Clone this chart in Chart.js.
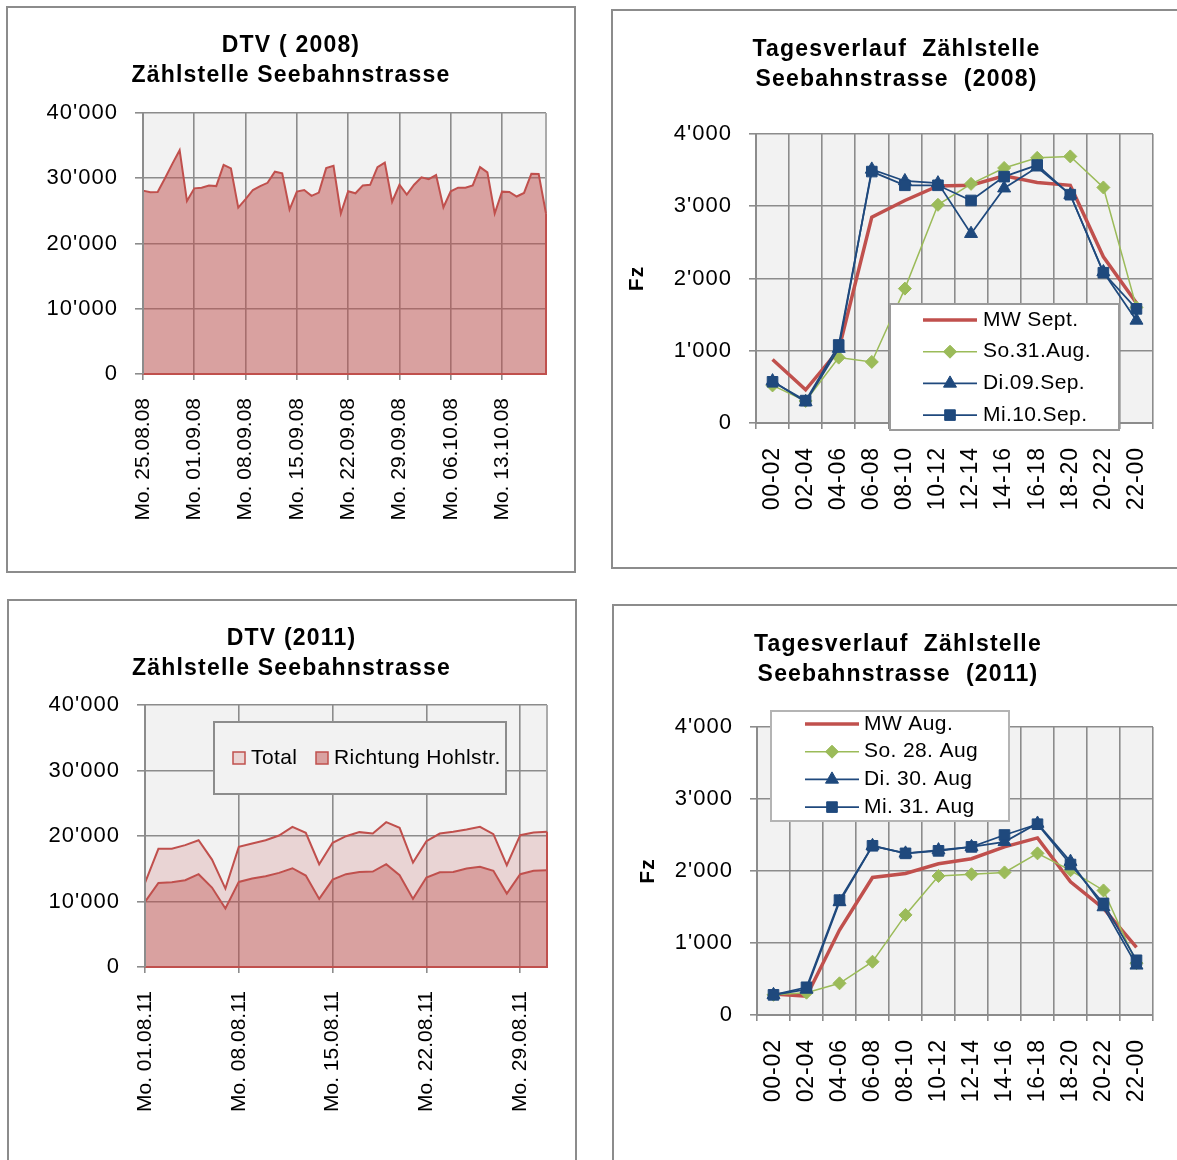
<!DOCTYPE html>
<html lang="de">
<head>
<meta charset="utf-8">
<title>Zählstelle Seebahnstrasse</title>
<script src="https://cdn.jsdelivr.net/npm/chart.js"></script>
<style>
  html, body { margin: 0; padding: 0; background: #fff; }
  body { position: relative; width: 1177px; height: 1160px; overflow: hidden; }
  canvas { position: absolute; }
  .frame { position: absolute; box-sizing: border-box; border: 2px solid #8c8c8c; pointer-events: none; }
</style>
</head>
<body>
<canvas id="dtv2008"></canvas>
<canvas id="tag2008"></canvas>
<canvas id="dtv2011"></canvas>
<canvas id="tag2011"></canvas>
<div class="frame" style="left:6px;top:6px;width:570px;height:567px"></div>
<div class="frame" style="left:611px;top:9px;width:600px;height:560px"></div>
<div class="frame" style="left:7px;top:599px;width:570px;height:600px"></div>
<div class="frame" style="left:612px;top:604px;width:600px;height:600px"></div>
<script>
// ---------- daily traffic 2008 ----------
const days2008 = [
  '25.08.08','26.08.08','27.08.08','28.08.08','29.08.08','30.08.08','31.08.08',
  '01.09.08','02.09.08','03.09.08','04.09.08','05.09.08','06.09.08','07.09.08',
  '08.09.08','09.09.08','10.09.08','11.09.08','12.09.08','13.09.08','14.09.08',
  '15.09.08','16.09.08','17.09.08','18.09.08','19.09.08','20.09.08','21.09.08',
  '22.09.08','23.09.08','24.09.08','25.09.08','26.09.08','27.09.08','28.09.08',
  '29.09.08','30.09.08','01.10.08','02.10.08','03.10.08','04.10.08','05.10.08',
  '06.10.08','07.10.08','08.10.08','09.10.08','10.10.08','11.10.08','12.10.08',
  '13.10.08','14.10.08','15.10.08','16.10.08','17.10.08','18.10.08','19.10.08'
];
const mondays2008 = ['Mo. 25.08.08','Mo. 01.09.08','Mo. 08.09.08','Mo. 15.09.08',
  'Mo. 22.09.08','Mo. 29.09.08','Mo. 06.10.08','Mo. 13.10.08'];
const dtv2008 = [
  28100, 27850, 27900, 30000, 32200, 34300, 26500,
  28450, 28550, 28900, 28800, 32050, 31500, 25500,
  26800, 28200, 28800, 29300, 31000, 30750, 25200,
  27950, 28200, 27300, 27800, 31550, 31900, 24600,
  28000, 27700, 28900, 29000, 31700, 32400, 26400,
  29000, 27500, 29000, 30150, 29850, 30500, 25550,
  28000, 28550, 28550, 28900, 31700, 30900, 24600,
  27950, 27900, 27200, 27750, 30700, 30650, 24600
];

// ---------- daily traffic 2011 ----------
const days2011 = [
  '01.08.11','02.08.11','03.08.11','04.08.11','05.08.11','06.08.11','07.08.11',
  '08.08.11','09.08.11','10.08.11','11.08.11','12.08.11','13.08.11','14.08.11',
  '15.08.11','16.08.11','17.08.11','18.08.11','19.08.11','20.08.11','21.08.11',
  '22.08.11','23.08.11','24.08.11','25.08.11','26.08.11','27.08.11','28.08.11',
  '29.08.11','30.08.11','31.08.11'
];
const mondays2011 = ['Mo. 01.08.11','Mo. 08.08.11','Mo. 15.08.11','Mo. 22.08.11','Mo. 29.08.11'];
const total2011 = [
  12840, 18040, 18040, 18600, 19360, 16400, 11970,
  18340, 18850, 19360, 20080, 21400, 20480, 15690,
  18960, 19970, 20590, 20380, 22110, 21250, 15950,
  19210, 20380, 20640, 20990, 21400, 20280, 15540,
  20130, 20540, 20640
];
const hohlstr2011 = [
  9940, 12840, 12940, 13250, 14170, 12130, 8920,
  12990, 13500, 13860, 14370, 15080, 13960, 10400,
  13350, 14170, 14520, 14570, 15690, 14010, 10400,
  13660, 14470, 14520, 15030, 15290, 14680, 11210,
  14170, 14680, 14780
];

// ---------- two-hour profiles ----------
const hours = ['00-02','02-04','04-06','06-08','08-10','10-12','12-14','14-16','16-18','18-20','20-22','22-00'];
const mwSep2008   = [880, 460, 1010, 2850, 3080, 3280, 3290, 3420, 3330, 3290, 2300, 1660];
const so31Aug2008 = [520, 305, 905, 845, 1860, 3020, 3310, 3530, 3670, 3690, 3260, 1600];
const di09Sep2008 = [580, 290, 1030, 3510, 3350, 3320, 2620, 3250, 3540, 3160, 2090, 1420];
const mi10Sep2008 = [570, 310, 1080, 3480, 3290, 3290, 3080, 3410, 3570, 3160, 2080, 1580];

const mwAug2011   = [290, 260, 1180, 1910, 1965, 2100, 2170, 2335, 2460, 1850, 1480, 940];
const so28Aug2011 = [280, 310, 440, 740, 1390, 1930, 1955, 1980, 2245, 2010, 1730, 720];
const di30Aug2011 = [280, 355, 1570, 2350, 2245, 2290, 2335, 2405, 2660, 2130, 1500, 690];
const mi31Aug2011 = [280, 385, 1595, 2350, 2245, 2280, 2335, 2500, 2650, 2090, 1550, 760];

// ---------- styling ----------
const FONT = '"Liberation Sans", Arial, Helvetica, sans-serif';
const RED = '#c0504d', GREEN = '#9bbb59', BLUE = '#1f497d';
const GRID = '#8c8c8c', AXIS = '#8c8c8c', PLOT_BG = '#f2f2f2', EDGE = '#ababab';
const TRANSPARENT = 'rgba(0,0,0,0)';

Chart.defaults.font.family = FONT;
Chart.defaults.color = '#000';

const swiss = v => String(v).replace(/\B(?=(\d{3})+(?!\d))/g, "'");

function place(id, x, y, w, h) {
  const c = document.getElementById(id);
  c.width = w; c.height = h;
  c.style.left = x + 'px'; c.style.top = y + 'px';
  c.style.width = w + 'px'; c.style.height = h + 'px';
  return c;
}

function marker(ctx, style, r, x, y, color) {
  ctx.save();
  ctx.fillStyle = color; ctx.strokeStyle = color; ctx.lineWidth = 1;
  ctx.beginPath();
  if (style === 'rectRot') {
    ctx.moveTo(x, y - r); ctx.lineTo(x + r, y); ctx.lineTo(x, y + r); ctx.lineTo(x - r, y);
  } else if (style === 'triangle') {
    for (let k = 0; k < 3; k++) {
      const a = k * 2 * Math.PI / 3;
      ctx.lineTo(x + Math.sin(a) * r, y - Math.cos(a) * r);
    }
  } else {
    const h = r * Math.SQRT1_2;
    ctx.rect(x - h, y - h, 2 * h, 2 * h);
  }
  ctx.closePath(); ctx.fill(); ctx.stroke();
  ctx.restore();
}

function drawLegend(chart, L) {
  const ctx = chart.ctx;
  ctx.save();
  ctx.fillStyle = L.fill; ctx.fillRect(L.x, L.y, L.w, L.h);
  ctx.strokeStyle = L.stroke; ctx.lineWidth = 2; ctx.strokeRect(L.x, L.y, L.w, L.h);
  ctx.font = '21px ' + FONT;
  ctx.letterSpacing = '0.4px';
  ctx.textBaseline = 'middle'; ctx.textAlign = 'left';
  chart.data.datasets.forEach((ds, i) => {
    if (L.kind === 'line') {
      const y = L.rowY + i * L.rowStep;
      ctx.strokeStyle = ds.borderColor; ctx.lineWidth = ds.borderWidth;
      ctx.beginPath(); ctx.moveTo(L.sx0, y); ctx.lineTo(L.sx1, y); ctx.stroke();
      if (ds.pointRadius) marker(ctx, ds.pointStyle, ds.pointRadius, (L.sx0 + L.sx1) / 2, y, ds.pointBackgroundColor);
      ctx.fillStyle = '#000';
      ctx.fillText(ds.label, L.tx, y);
    } else {
      const it = L.items[i];
      ctx.fillStyle = it.swatch; ctx.fillRect(it.x, L.cy - 6, 12, 12);
      ctx.strokeStyle = ds.borderColor; ctx.lineWidth = 1.5; ctx.strokeRect(it.x, L.cy - 6, 12, 12);
      ctx.fillStyle = '#000';
      ctx.fillText(ds.label, it.x + 18, L.cy);
    }
  });
  ctx.restore();
}

// plot background, area outlines, heading and legend for one panel
function panelPlugin(cfg) {
  return {
    id: 'panel',
    beforeDraw(chart) {
      const {ctx, chartArea: a} = chart;
      ctx.save();
      ctx.fillStyle = PLOT_BG;
      ctx.fillRect(a.left, a.top, a.width, a.height);
      ctx.restore();
      ctx.letterSpacing = cfg.ySpacing + 'px';
    },
    beforeDatasetsDraw(chart) {
      if (!cfg.rightEdge) return;
      const {ctx, chartArea: a} = chart;
      ctx.save();
      ctx.strokeStyle = EDGE; ctx.lineWidth = 2;
      ctx.beginPath(); ctx.moveTo(a.right, a.top); ctx.lineTo(a.right, a.bottom); ctx.stroke();
      ctx.restore();
    },
    afterDatasetsDraw(chart) {
      const ctx = chart.ctx;
      const base = chart.scales.y.getPixelForValue(0);
      chart.data.datasets.forEach((ds, i) => {
        if (!ds.fill) return;
        const pts = chart.getDatasetMeta(i).data;
        const f = pts[0], l = pts[pts.length - 1];
        ctx.save();
        ctx.strokeStyle = ds.borderColor; ctx.lineWidth = ds.borderWidth;
        ctx.beginPath();
        ctx.moveTo(f.x, f.y); ctx.lineTo(f.x, base); ctx.lineTo(l.x, base); ctx.lineTo(l.x, l.y);
        ctx.stroke();
        ctx.restore();
      });
      ctx.letterSpacing = cfg.xSpacing + 'px';
    },
    afterDraw(chart) {
      const ctx = chart.ctx;
      ctx.save();
      ctx.letterSpacing = '1.2px';
      ctx.font = 'bold 23px ' + FONT;
      ctx.fillStyle = '#000'; ctx.textAlign = 'center'; ctx.textBaseline = 'middle';
      cfg.title.forEach((line, k) => ctx.fillText(line, cfg.titleX, cfg.titleY[k]));
      ctx.restore();
      if (cfg.legend) drawLegend(chart, cfg.legend);
    }
  };
}

function valueAxis(max, step, width, tickLen, pad, fzPad) {
  return {
    min: 0, max: max,
    ticks: { stepSize: step, padding: pad, color: '#000', font: { family: FONT, size: 22 }, callback: v => swiss(v) },
    grid: { color: GRID, lineWidth: 1.6, tickLength: tickLen },
    border: { display: true, color: AXIS, width: 2, z: 1 },
    title: fzPad === undefined ? { display: false } : {
      display: true, text: 'Fz', color: '#000',
      font: { family: FONT, size: 21, weight: 'bold', lineHeight: 1 },
      padding: { top: fzPad, bottom: 0 }
    },
    afterFit(s) { s.width = width; }
  };
}

function weekAxis(mondays, height) {
  return {
    type: 'category', offset: false,
    ticks: {
      autoSkip: false, minRotation: 90, maxRotation: 90, padding: 18, z: 1,
      color: '#000', font: { family: FONT, size: 21 },
      callback: (v, i) => (i % 7 === 0 ? mondays[i / 7] : '')
    },
    grid: { color: c => (c.index % 7 === 0 ? GRID : TRANSPARENT), lineWidth: 1.6, tickLength: 6 },
    border: { display: false },
    afterFit(s) { s.height = height; s.paddingLeft = 0; s.paddingRight = 0; }
  };
}

function hourAxis(height) {
  return {
    type: 'category', offset: true,
    ticks: { autoSkip: false, minRotation: 90, maxRotation: 90, padding: 18, z: 1, color: '#000', font: { family: FONT, size: 23 } },
    grid: { offset: true, color: GRID, lineWidth: 1.6, tickLength: 6 },
    border: { display: true, color: AXIS, width: 2 },
    afterFit(s) { s.height = height; s.paddingLeft = 0; s.paddingRight = 0; }
  };
}

const baseOptions = (padTop, padRight) => ({
  responsive: false, animation: false, devicePixelRatio: 1, events: [],
  layout: { padding: { top: padTop, right: padRight, bottom: 0, left: 0 } },
  plugins: { legend: { display: false }, tooltip: { enabled: false }, title: { display: false } }
});

function profileSets(labels, mw, so, di, mi) {
  return [
    { label: labels[0], data: mw, borderColor: RED, backgroundColor: RED, borderWidth: 3.5, pointRadius: 0, tension: 0, order: 3 },
    { label: labels[1], data: so, borderColor: GREEN, backgroundColor: GREEN, borderWidth: 1.5, tension: 0, order: 2,
      pointStyle: 'rectRot', pointRadius: 6.5, pointBorderWidth: 1, pointBackgroundColor: GREEN, pointBorderColor: GREEN },
    { label: labels[2], data: di, borderColor: BLUE, backgroundColor: BLUE, borderWidth: 1.75, tension: 0, order: 1,
      pointStyle: 'triangle', pointRadius: 7.5, pointBorderWidth: 1, pointBackgroundColor: BLUE, pointBorderColor: BLUE },
    { label: labels[3], data: mi, borderColor: BLUE, backgroundColor: BLUE, borderWidth: 1.75, tension: 0, order: 0,
      pointStyle: 'rect', pointRadius: 7.5, pointBorderWidth: 1, pointBackgroundColor: BLUE, pointBorderColor: BLUE }
  ];
}

// ---------- DTV 2008 ----------
{
  const opts = baseOptions(106, 29);
  opts.scales = { x: weekAxis(mondays2008, 198), y: valueAxis(40000, 10000, 136, 8, 17) };
  new Chart(place('dtv2008', 7, 7, 568, 565), {
    type: 'line',
    data: { labels: days2008, datasets: [
      { label: 'DTV 2008', data: dtv2008, borderColor: RED, borderWidth: 2, backgroundColor: 'rgba(192,80,77,0.5)',
        fill: 'origin', pointRadius: 0, tension: 0 }
    ] },
    options: opts,
    plugins: [panelPlugin({ ySpacing: 1.0, xSpacing: 0, rightEdge: true,
      title: ['DTV ( 2008)', 'Zählstelle Seebahnstrasse'], titleX: 284, titleY: [38.3, 68.3] })]
  });
}

// ---------- Tagesverlauf 2008 ----------
{
  const opts = baseOptions(124, 29);
  opts.scales = { x: hourAxis(145), y: valueAxis(4000, 1000, 144, 7, 17, 15) };
  new Chart(place('tag2008', 612, 10, 570, 558), {
    type: 'line',
    data: { labels: hours, datasets: profileSets(['MW Sept.', 'So.31.Aug.', 'Di.09.Sep.', 'Mi.10.Sep.'],
      mwSep2008, so31Aug2008, di09Sep2008, mi10Sep2008) },
    options: opts,
    plugins: [panelPlugin({ ySpacing: 1.0, xSpacing: 0.9, rightEdge: false,
      title: ['Tagesverlauf  Zählstelle', 'Seebahnstrasse  (2008)'], titleX: 284.5, titleY: [39.5, 69.5],
      legend: { kind: 'line', x: 278, y: 294, w: 229, h: 126, fill: '#ffffff', stroke: '#9a9a9a',
        sx0: 311, sx1: 365, tx: 371, rowY: 310, rowStep: 31.7 } })]
  });
}

// ---------- DTV 2011 ----------
{
  const opts = baseOptions(105, 29);
  opts.scales = { x: weekAxis(mondays2011, 193), y: valueAxis(40000, 10000, 137, 8, 17) };
  new Chart(place('dtv2011', 8, 600, 568, 560), {
    type: 'line',
    data: { labels: days2011, datasets: [
      { label: 'Total', data: total2011, borderColor: RED, borderWidth: 2, backgroundColor: 'rgba(192,80,77,0.18)',
        fill: 'origin', pointRadius: 0, tension: 0, order: 1 },
      { label: 'Richtung Hohlstr.', data: hohlstr2011, borderColor: RED, borderWidth: 2, backgroundColor: 'rgba(192,80,77,0.38)',
        fill: 'origin', pointRadius: 0, tension: 0, order: 0 }
    ] },
    options: opts,
    plugins: [panelPlugin({ ySpacing: 1.0, xSpacing: 0, rightEdge: true,
      title: ['DTV (2011)', 'Zählstelle Seebahnstrasse'], titleX: 283.5, titleY: [38.5, 68.5],
      legend: { kind: 'swatch', x: 206, y: 122, w: 292, h: 72, fill: PLOT_BG, stroke: '#8c8c8c', cy: 158,
        items: [{ x: 225, swatch: 'rgb(234,213,212)' }, { x: 308, swatch: 'rgb(217,162,161)' }] } })]
  });
}

// ---------- Tagesverlauf 2011 ----------
{
  const opts = baseOptions(122, 30);
  opts.scales = { x: hourAxis(145), y: valueAxis(4000, 1000, 144, 7, 17, 24.5) };
  new Chart(place('tag2011', 613, 605, 570, 555), {
    type: 'line',
    data: { labels: hours, datasets: profileSets(['MW Aug.', 'So. 28. Aug', 'Di. 30. Aug', 'Mi. 31. Aug'],
      mwAug2011, so28Aug2011, di30Aug2011, mi31Aug2011) },
    options: opts,
    plugins: [panelPlugin({ ySpacing: 1.0, xSpacing: 0.9, rightEdge: false,
      title: ['Tagesverlauf  Zählstelle', 'Seebahnstrasse  (2011)'], titleX: 285, titleY: [39.2, 69.5],
      legend: { kind: 'line', x: 158, y: 106, w: 238, h: 110, fill: '#ffffff', stroke: '#b4b4b4',
        sx0: 192, sx1: 246, tx: 251, rowY: 119, rowStep: 27.7 } })]
  });
}
</script>
</body>
</html>
